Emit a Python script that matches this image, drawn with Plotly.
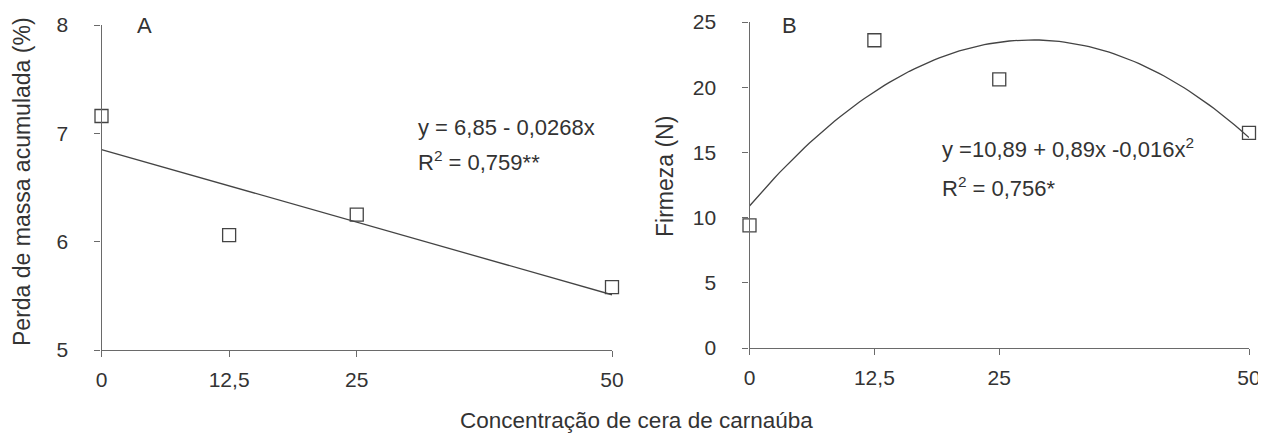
import numpy as np
import plotly.graph_objects as go

# ---- data ----
concentracao = [0, 12.5, 25, 50]
tick_labels = ["0", "12,5", "25", "50"]
perda_massa = [7.16, 6.06, 6.25, 5.58]
firmeza = [9.4, 23.6, 20.6, 16.5]
coef_a = [6.85, -0.0268]            # linear fit A (intercept, slope)
coef_b = [10.89, 0.90, -0.0159]     # quadratic fit B (as drawn)
yticks_a = [5, 6, 7, 8]
yticks_b = [0, 5, 10, 15, 20, 25]

# page body has an 8px default margin: size the figure to fill the rest of the window
OFF = 8
W, H = 1266 - OFF, 435 - OFF
def fx(px):
    return (px - OFF) / W
def fy(py):
    return 1 - (py - OFF) / H

font_fam = "Liberation Sans, Arial, sans-serif"
txt_col = "#333333"
axis_col = "#6a6a6a"
mark_col = "#444444"

xf = np.linspace(0, 50, 101)
fit_a = coef_a[0] + coef_a[1] * xf
fit_b = coef_b[0] + coef_b[1] * xf + coef_b[2] * xf ** 2

fig = go.Figure()
fig.add_trace(go.Scatter(x=xf, y=fit_a, mode="lines", line=dict(color=mark_col, width=1.3),
                         xaxis="x", yaxis="y", showlegend=False, hoverinfo="skip", cliponaxis=False))
fig.add_trace(go.Scatter(x=concentracao, y=perda_massa, mode="markers",
                         marker=dict(symbol="square-open", size=13, color=mark_col, line=dict(width=1.3, color=mark_col)),
                         xaxis="x", yaxis="y", showlegend=False, cliponaxis=False))
fig.add_trace(go.Scatter(x=xf, y=fit_b, mode="lines", line=dict(color=mark_col, width=1.3),
                         xaxis="x2", yaxis="y2", showlegend=False, hoverinfo="skip", cliponaxis=False))
fig.add_trace(go.Scatter(x=concentracao, y=firmeza, mode="markers",
                         marker=dict(symbol="square-open", size=13, color=mark_col, line=dict(width=1.3, color=mark_col)),
                         xaxis="x2", yaxis="y2", showlegend=False, cliponaxis=False))

def xax(domain, anchor):
    return dict(domain=domain, anchor=anchor, range=[0, 50], tickvals=concentracao, ticktext=tick_labels,
                showline=True, linecolor=axis_col, linewidth=1.3, ticks="outside", ticklen=6,
                tickcolor=axis_col, tickwidth=1.3, showgrid=False, zeroline=False, automargin=False,
                tickfont=dict(size=21, color=txt_col, family=font_fam), ticklabelstandoff=5)

def yax(domain, anchor, rng, tv):
    return dict(domain=domain, anchor=anchor, range=rng, tickvals=tv,
                showline=True, linecolor=axis_col, linewidth=1.3, ticks="outside", ticklen=6,
                tickcolor=axis_col, tickwidth=1.3, showgrid=False, zeroline=False, automargin=False,
                tickfont=dict(size=21, color=txt_col, family=font_fam), ticklabelstandoff=22)

fig.update_layout(
    template="none",
    width=W, height=H, margin=dict(l=0, r=0, t=0, b=0, pad=0, autoexpand=False),
    paper_bgcolor="white", plot_bgcolor="white",
    font=dict(family=font_fam, color=txt_col),
    xaxis=xax([fx(101.5), fx(612)], "y"),
    yaxis=yax([fy(350), fy(25)], "x", [5, 8], yticks_a),
    xaxis2=xax([fx(749.5), fx(1249)], "y2"),
    yaxis2=yax([fy(348), fy(22)], "x2", [0, 25], yticks_b),
)

ann_font = dict(size=22, color=txt_col, family=font_fam)
anns = [
    dict(text="A", x=4.2, y=8.0, xref="x", yref="y", xanchor="center", yanchor="middle"),
    dict(text="y = 6,85 - 0,0268x", x=30.8, y=7.058, xref="x", yref="y", xanchor="left", yanchor="middle"),
    dict(text="R<sup>2</sup> = 0,759**", x=30.8, y=6.744, xref="x", yref="y", xanchor="left", yanchor="middle"),
    dict(text="B", x=4.05, y=24.77, xref="x2", yref="y2", xanchor="center", yanchor="middle"),
    dict(text="y =10,89 + 0,89x -0,016x<sup>2</sup>", x=19.07, y=15.3, xref="x2", yref="y2", xanchor="left", yanchor="middle"),
    dict(text="R<sup>2</sup> = 0,756*", x=19.07, y=12.35, xref="x2", yref="y2", xanchor="left", yanchor="middle"),
]
for a in anns:
    a.update(showarrow=False, font=ann_font)
    fig.add_annotation(**a)

title_font = dict(size=23, color=txt_col, family=font_fam)
fig.add_annotation(text="Perda de massa acumulada (%)", x=fx(22), y=fy(182), xref="paper", yref="paper",
                   textangle=-90, showarrow=False, font=title_font, xanchor="center", yanchor="middle")
fig.add_annotation(text="Firmeza (N)", x=fx(665), y=fy(177), xref="paper", yref="paper",
                   textangle=-90, showarrow=False, font=title_font, xanchor="center", yanchor="middle")
fig.add_annotation(text="Concentração de cera de carnaúba", x=fx(636), y=fy(420), xref="paper", yref="paper",
                   showarrow=False, font=dict(size=22.5, color=txt_col, family=font_fam),
                   xanchor="center", yanchor="middle")

fig.write_html("out.html")
